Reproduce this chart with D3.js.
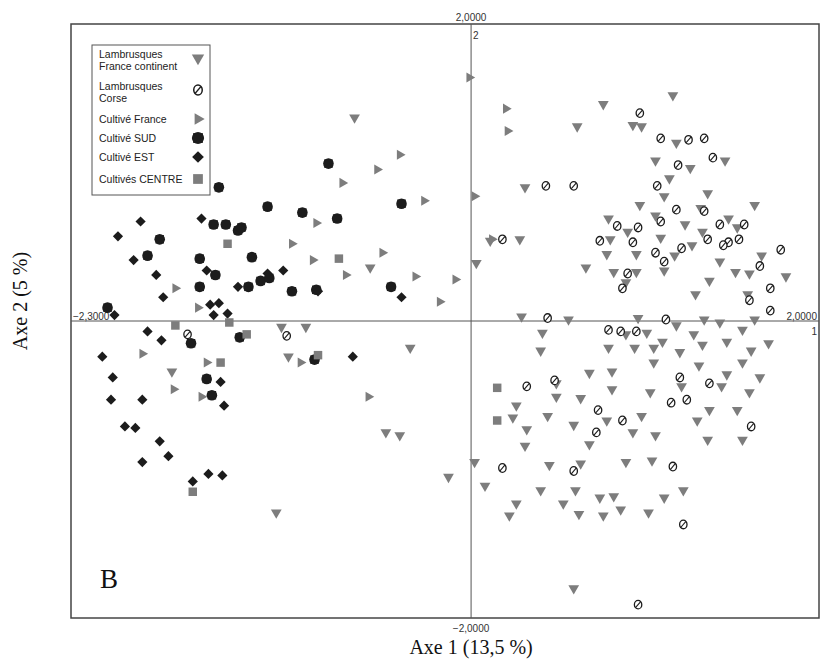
<!DOCTYPE html>
<html>
<head>
<meta charset="utf-8">
<script src="https://cdn.jsdelivr.net/npm/d3@7"></script>
<style>
  body { margin: 0; background: #fff; }
  svg { display: block; }
</style>
</head>
<body>
<div id="chart"></div>
<script>
// Points, [axe 1, axe 2]
const lambrusquesFrance = [
  [1.16,1.52],[0.76,1.46],[0.61,1.31],[0.93,1.32],[0.98,1.31],[1.18,1.20],[1.06,1.08],[1.26,1.03],
  [1.14,0.96],[1.46,1.08],[0.31,0.90],[1.11,0.84],[1.36,0.86],[0.97,0.78],[1.32,0.76],[1.63,0.78],
  [0.79,0.69],[1.06,0.71],[1.23,0.65],[1.48,0.69],[1.53,0.63],[1.33,0.60],[0.11,0.54],[0.28,0.55],
  [0.80,0.55],[0.90,0.60],[1.09,0.56],[1.27,0.51],[0.78,0.45],[0.95,0.45],[1.17,0.44],[1.67,0.44],
  [1.43,0.40],[1.52,0.33],[1.60,0.32],[0.03,0.39],[0.66,0.36],[0.82,0.33],[0.95,0.33],[1.11,0.34],
  [1.81,0.30],[0.89,0.26],[1.37,0.27],[1.29,0.18],[1.59,0.18],[0.29,0.03],[0.56,0.01],[0.96,0.02],
  [1.34,0.01],[1.63,0.01],[1.18,-0.03],[1.43,-0.01],[0.41,-0.08],[0.89,-0.09],[1.01,-0.08],[1.05,-0.18],
  [1.10,-0.14],[1.28,-0.09],[1.56,-0.06],[1.47,-0.14],[0.79,-0.18],[0.94,-0.18],[1.20,-0.21],[1.33,-0.16],
  [1.71,-0.15],[0.40,-0.20],[1.61,-0.20],[1.56,-0.28],[1.31,-0.30],[0.81,-0.34],[0.68,-0.35],[1.05,-0.28],
  [1.47,-0.36],[1.66,-0.38],[1.44,-0.44],[0.49,-0.42],[0.81,-0.46],[0.49,-0.51],[0.63,-0.52],[1.21,-0.44],
  [1.03,-0.48],[1.60,-0.48],[0.44,-0.64],[1.53,-0.60],[0.98,-0.64],[1.37,-0.60],[0.26,-0.57],[0.24,-0.65],
  [0.32,-0.73],[0.78,-0.67],[0.59,-0.70],[1.56,-0.80],[1.36,-0.80],[1.06,-0.77],[0.93,-0.75],[1.30,-0.67],
  [0.31,-0.84],[0.68,-0.83],[0.63,-0.96],[0.89,-0.95],[1.04,-0.94],[0.45,-0.97],[0.02,-0.95],[0.08,-1.11],
  [0.40,-1.14],[0.60,-1.14],[0.53,-1.23],[0.74,-1.19],[0.82,-1.18],[0.86,-1.27],[1.11,-1.19],[1.22,-1.14],
  [0.22,-1.31],[0.26,-1.23],[0.62,-1.30],[0.76,-1.31],[1.02,-1.29],[0.59,-1.80],
  [-0.67,1.37],[-0.58,0.36],[-1.09,-0.04],[-0.95,-0.04],[-1.05,-0.24],[-0.35,-0.18],[-0.49,-0.75],
  [-0.41,-0.77],[-0.13,-1.05],[-1.12,-1.29],[-1.72,-0.34]
];
const lambrusquesCorse = [
  [0.97,1.40],[1.09,1.23],[1.25,1.22],[1.34,1.23],[1.39,1.10],[1.19,1.05],[0.43,0.91],[0.59,0.91],
  [1.07,0.91],[1.34,0.74],[0.84,0.64],[0.96,0.63],[1.18,0.75],[1.09,0.67],[1.43,0.65],[1.57,0.65],
  [0.18,0.55],[0.74,0.54],[0.93,0.53],[1.36,0.55],[1.48,0.53],[1.54,0.55],[1.78,0.48],[1.45,0.51],
  [1.06,0.46],[1.11,0.40],[1.21,0.49],[1.66,0.37],[0.87,0.22],[0.90,0.32],[1.72,0.22],[1.60,0.14],
  [1.72,0.07],[0.44,0.02],[0.79,-0.06],[0.86,-0.07],[1.12,0.01],[0.95,-0.07],[1.20,-0.38],[0.32,-0.44],
  [0.48,-0.40],[1.37,-0.42],[1.15,-0.55],[1.24,-0.53],[0.73,-0.60],[0.87,-0.67],[1.61,-0.71],[0.72,-0.75],
  [0.18,-0.99],[1.16,-0.98],[0.59,-1.01],[1.22,-1.37],[0.96,-1.91],[-1.06,-0.10],[-1.63,-0.09]
];
const cultiveFrance = [
  [-1.70,0.22],[-1.57,0.09],[-1.89,-0.22],[-1.52,-0.28],[-1.71,-0.46],[-1.55,-0.51],[-0.01,1.64],
  [0.20,1.43],[0.21,1.28],[-0.54,1.02],[-0.41,1.12],[-0.74,0.93],[-0.27,0.81],[0.02,0.84],[0.12,0.55],
  [-0.89,0.66],[-1.03,0.52],[-0.51,0.46],[-0.91,0.41],[-0.72,0.31],[-0.32,0.30],[-0.09,0.28],
  [-0.18,0.13],[-0.98,-0.28],[-0.59,-0.51]
];
const cultiveSud = [
  [-1.45,0.90],[-1.79,0.55],[-1.86,0.44],[-2.09,0.09],[-1.48,0.65],[-1.41,0.65],[-1.34,0.61],
  [-1.32,0.63],[-1.17,0.77],[-1.56,0.42],[-1.26,0.43],[-1.47,0.31],[-1.56,0.23],[-1.28,0.23],
  [-1.21,0.27],[-1.61,-0.15],[-1.33,-0.11],[-1.52,-0.39],[-1.49,-0.50],[-0.82,1.06],[-0.97,0.73],
  [-0.40,0.79],[-1.16,0.29],[-1.03,0.20],[-0.89,0.21],[-0.46,0.23],[-0.90,-0.26],[-0.77,0.69]
];
const cultiveEst = [
  [-1.90,0.67],[-2.03,0.57],[-1.94,0.41],[-1.81,0.31],[-1.77,0.16],[-2.05,0.04],[-1.55,0.69],
  [-1.52,0.34],[-1.34,0.23],[-1.17,0.32],[-1.50,0.11],[-1.45,0.12],[-1.48,0.04],[-1.40,0.05],
  [-1.86,-0.07],[-1.78,-0.13],[-2.12,-0.24],[-2.06,-0.38],[-2.07,-0.53],[-1.89,-0.53],[-1.99,-0.71],
  [-1.93,-0.72],[-1.79,-0.81],[-1.74,-0.91],[-1.89,-0.95],[-1.44,-0.41],[-1.42,-0.57],[-1.51,-1.03],
  [-1.43,-1.04],[-1.60,-1.08],[-1.08,0.34],[-0.88,0.20],[-0.40,0.16],[-0.68,-0.24]
];
const cultiveCentre = [
  [-1.40,0.52],[-1.70,-0.03],[-1.39,-0.01],[-1.29,-0.09],[-1.44,-0.28],[-1.60,-1.15],[-0.76,0.42],
  [-0.88,-0.23],[0.15,-0.45],[0.15,-0.67]
];

const legendLabels = [
  ["Lambrusques", "France continent"],
  ["Lambrusques", "Corse"],
  ["Cultivé France"],
  ["Cultivé SUD"],
  ["Cultivé EST"],
  ["Cultivés CENTRE"]
];
const xDomain = [-2.3, 2.0];
const yDomain = [-2.0, 2.0];

const W = 821, H = 669;
const margin = {top: 24, right: 2, bottom: 51, left: 71};

const svg = d3.select("#chart").append("svg")
  .attr("width", W).attr("height", H);

const x = d3.scaleLinear().domain(xDomain).range([margin.left, W - margin.right]);
const y = d3.scaleLinear().domain(yDomain).range([H - margin.bottom, margin.top]);

const gray = "#7d7d7d", dark = "#1c1c1c";

// frame
svg.append("rect")
  .attr("x", x(xDomain[0])).attr("y", y(yDomain[1]))
  .attr("width", x(xDomain[1]) - x(xDomain[0]))
  .attr("height", y(yDomain[0]) - y(yDomain[1]))
  .attr("fill", "none").attr("stroke", "#444").attr("stroke-width", 1.5);

// axes through origin
svg.append("line")
  .attr("x1", x(xDomain[0])).attr("x2", x(xDomain[1]))
  .attr("y1", y(0)).attr("y2", y(0))
  .attr("stroke", "#555").attr("stroke-width", 1);
svg.append("line")
  .attr("x1", x(0)).attr("x2", x(0))
  .attr("y1", y(yDomain[0])).attr("y2", y(yDomain[1]))
  .attr("stroke", "#555").attr("stroke-width", 1);

// extreme labels
const fmt = v => d3.format(".4f")(v).replace(".", ",");
const tick = svg.append("g").attr("font-family", "Arial, 'Liberation Sans', sans-serif")
  .attr("font-size", 10).attr("fill", "#333");
tick.append("text").attr("x", x(0)).attr("y", y(yDomain[1]) - 3)
  .attr("text-anchor", "middle").text(fmt(yDomain[1]));
tick.append("text").attr("x", x(0) + 2).attr("y", y(yDomain[1]) + 15).text("2");
tick.append("text").attr("x", x(0)).attr("y", y(yDomain[0]) + 14)
  .attr("text-anchor", "middle").text(fmt(yDomain[0]));
tick.append("text").attr("x", x(xDomain[0]) + 2).attr("y", y(0) - 1).text(fmt(xDomain[0]));
tick.append("text").attr("x", x(xDomain[1]) - 2).attr("y", y(0) - 1)
  .attr("text-anchor", "end").text(fmt(xDomain[1]));
tick.append("text").attr("x", x(xDomain[1]) - 2).attr("y", y(0) + 14)
  .attr("text-anchor", "end").text("1");

// axis titles
svg.append("text")
  .attr("x", x(0)).attr("y", H - 15)
  .attr("text-anchor", "middle")
  .attr("font-family", "'Liberation Serif', 'Times New Roman', serif")
  .attr("font-size", 20).attr("fill", "#111")
  .text("Axe 1 (13,5 %)");
svg.append("text")
  .attr("transform", `translate(27,${y(0) - 20}) rotate(-90)`)
  .attr("text-anchor", "middle")
  .attr("font-family", "'Liberation Serif', 'Times New Roman', serif")
  .attr("font-size", 20).attr("fill", "#111")
  .text("Axe 2 (5 %)");
svg.append("text")
  .attr("x", x(xDomain[0]) + 29).attr("y", y(yDomain[0]) - 30)
  .attr("font-family", "'Liberation Serif', 'Times New Roman', serif")
  .attr("font-size", 27).attr("fill", "#111")
  .text("B");

// marker drawers
const markers = [
  g => g.append("path").attr("d", d3.symbol(d3.symbolTriangle, 50)()).attr("transform", "rotate(180)").attr("fill", gray),
  g => {
    g.append("ellipse").attr("rx", 3.7).attr("ry", 4.3).attr("fill", "#fff").attr("stroke", dark).attr("stroke-width", 1.3);
    g.append("line").attr("x1", -2.4).attr("y1", 2.8).attr("x2", 2.4).attr("y2", -2.8).attr("stroke", dark).attr("stroke-width", 1.1);
  },
  g => g.append("path").attr("d", d3.symbol(d3.symbolTriangle, 44)()).attr("transform", "rotate(90)").attr("fill", gray),
  g => {
    g.append("path").attr("d", d3.symbol(d3.symbolSquare, 72)()).attr("fill", dark);
    g.append("circle").attr("r", 5.3).attr("fill", dark);
  },
  g => g.append("path").attr("d", d3.symbol(d3.symbolSquare, 52)()).attr("transform", "rotate(45)").attr("fill", dark),
  g => g.append("path").attr("d", d3.symbol(d3.symbolSquare, 72)()).attr("fill", gray)
];

const groups = [lambrusquesFrance, lambrusquesCorse, cultiveFrance, cultiveSud, cultiveEst, cultiveCentre];
groups.forEach((data, i) => {
  svg.append("g").selectAll("g")
    .data(data)
    .enter().append("g")
    .attr("transform", d => `translate(${x(d[0])},${y(d[1])})`)
    .each(function() { markers[i](d3.select(this)); });
});

// legend
const legend = svg.append("g").attr("transform", "translate(92,45)");
legend.append("rect").attr("width", 118).attr("height", 150)
  .attr("fill", "#fff").attr("stroke", "#555").attr("stroke-width", 1);
const rowsY = [15, 47, 74, 93, 112, 134];
legendLabels.forEach((lines, i) => {
  const row = legend.append("g").attr("transform", `translate(0,${rowsY[i]})`);
  lines.forEach((t, j) => {
    row.append("text").attr("x", 7).attr("y", j * 12 - (lines.length - 1) * 6 + 4)
      .attr("font-family", "Arial, 'Liberation Sans', sans-serif")
      .attr("font-size", 10.5).attr("fill", "#222").text(t);
  });
  const sym = row.append("g").attr("transform", `translate(106,${lines.length > 1 ? -2 : 0}) scale(1.15)`);
  markers[i](sym);
});
</script>
</body>
</html>
